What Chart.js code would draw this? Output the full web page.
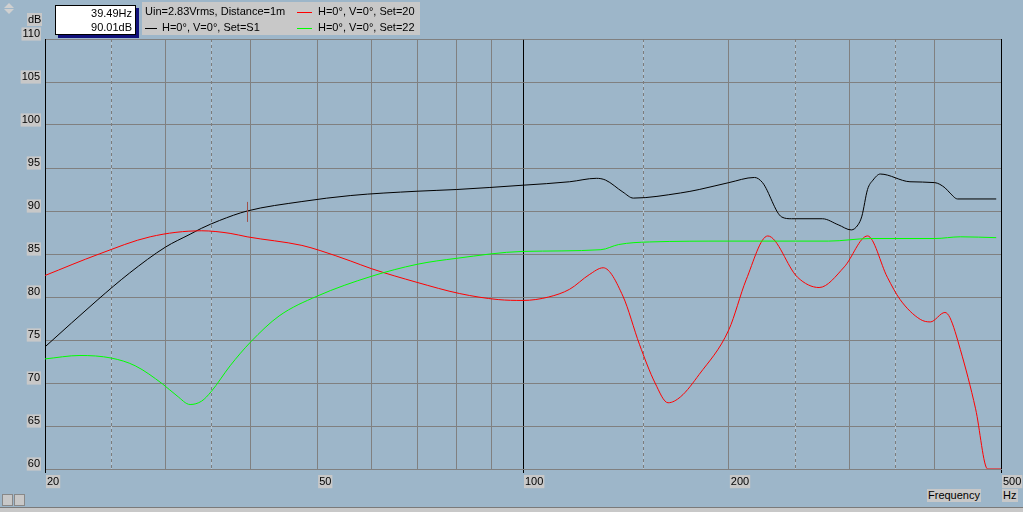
<!DOCTYPE html>
<html>
<head>
<meta charset="utf-8">
<script src="https://cdn.jsdelivr.net/npm/chart.js@4"></script>
<style>
  html, body { margin:0; padding:0; background:#9db6c9; }
  #wrap { position:relative; width:1023px; height:512px; overflow:hidden; background:#9db6c9; font:11px "Liberation Sans", Arial, sans-serif; color:#000; }
  #chart { position:absolute; left:0; top:0; }
  .abs { position:absolute; white-space:nowrap; line-height:13px; }
  .gray { background:#c8c8c8; }
  #valbox { left:55px; top:5px; width:79px; height:28px; background:#fff; border:1px solid #000; box-shadow:3px 3px 0 #10107a; text-align:right; }
  #valbox div { padding-right:3px; line-height:14px; }
  #legend { left:142px; top:2px; width:278px; height:33px; background:#c8c8c8; }
  .sw { position:absolute; height:1px; width:15px; }
  #bottomline { left:0; top:507px; width:1023px; height:1px; background:#7a7a7a; }
  #bottomlight { left:0; top:508px; width:1023px; height:4px; background:#c8c8c8; }
</style>
</head>
<body>
<div id="wrap">
  <canvas id="chart" width="1023" height="512"></canvas>
  <div class="abs" style="left:4px;top:3px;width:0;height:0;border-left:5px solid transparent;border-right:5px solid transparent;border-bottom:5px solid #d0d0d0;"></div>
  <div class="abs" style="left:4px;top:9px;width:0;height:0;border-left:5px solid transparent;border-right:5px solid transparent;border-top:5px solid #d0d0d0;"></div>
  <div class="abs gray" style="left:27px;top:13px;padding:0 1px;">dB</div>
  <div class="abs" id="valbox"><div>39.49Hz</div><div>90.01dB</div></div>
  <div class="abs" id="legend">
    <div class="abs" style="left:3px;top:3px;">Uin=2.83Vrms, Distance=1m</div>
    <div class="sw" style="left:3px;top:26px;width:12px;background:#000;"></div>
    <div class="abs" style="left:20px;top:19px;">H=0°, V=0°, Set=S1</div>
    <div class="sw" style="left:155px;top:10px;background:#ff0000;"></div>
    <div class="abs" style="left:176px;top:3px;">H=0°, V=0°, Set=20</div>
    <div class="sw" style="left:155px;top:26px;background:#00ff00;"></div>
    <div class="abs" style="left:176px;top:19px;">H=0°, V=0°, Set=22</div>
  </div>
  <div class="abs gray" style="left:927px;top:489px;padding:0 1px;">Frequency</div>
  <div class="abs gray" style="left:1002px;top:489px;padding:0 2px 0 1px;">Hz</div>
  <div class="abs" style="left:2px;top:494px;width:9px;height:10px;background:#c8c8c8;border:1px solid #888;"></div>
  <div class="abs" style="left:14px;top:494px;width:9px;height:10px;background:#c8c8c8;border:1px solid #888;"></div>
  <div class="abs" id="bottomline"></div>
  <div class="abs" id="bottomlight"></div>
</div>
<script>
// axis
const xTicks = [20, 30, 40, 50, 60, 70, 80, 90, 100, 200, 300, 400, 500];
const xLabels = [20, 50, 100, 200, 500];
const xDashed = [25, 35, 150, 250, 350];
const blackTicks = [20, 100, 500];

// Set=S1 (black)
const s1Freq = [20, 23.9, 26.6, 30, 32.6, 33.9, 36, 39.5, 47.5, 56, 70, 80, 100, 117, 128, 132, 140, 145, 170, 181, 200, 218, 224, 239, 247, 274, 289, 302, 309, 313, 319, 325, 333, 368, 400, 414, 421, 432, 492];
const s1Db   = [74.2, 79.7, 82.8, 85.8, 87.3, 88.0, 88.9, 90.0, 91.1, 91.8, 92.3, 92.5, 93.0, 93.4, 93.8, 93.6, 92.2, 91.5, 92.1, 92.5, 93.3, 93.9, 93.3, 89.3, 89.1, 89.1, 88.4, 87.8, 88.4, 89.4, 92.5, 93.6, 94.3, 93.4, 93.3, 92.7, 92.1, 91.4, 91.4];

// Set=20 (red)
const s20Freq = [20, 24, 28.5, 33.9, 37.3, 39.5, 47.5, 50.5, 55.9, 60, 70, 80.8, 92, 100, 109, 117, 125, 131, 140, 148, 156, 163, 170, 181, 200, 212, 228, 252, 271, 295, 319, 341, 356, 381, 394, 414, 421, 436, 459, 478, 500];
const s20Db   = [82.5, 85.0, 87.0, 87.7, 87.4, 87.0, 86.0, 85.4, 84.2, 83.3, 81.7, 80.4, 79.7, 79.6, 80.0, 80.9, 82.6, 83.4, 80.1, 74.5, 70.0, 67.7, 68.4, 71.0, 76.2, 82.0, 87.1, 82.3, 81.1, 83.5, 87.1, 82.3, 79.7, 77.4, 77.1, 78.2, 77.6, 73.9, 67.0, 60.0, 60.0];

// Set=22 (green)
const s22Freq = [20, 22.5, 25, 27.1, 29.7, 31.2, 32.6, 33.9, 35, 37.3, 40, 44, 50, 60, 70, 80, 100, 130, 138, 153, 200, 280, 322, 400, 436, 492];
const s22Db   = [72.8, 73.2, 72.9, 72.0, 69.9, 68.5, 67.5, 67.9, 69.0, 72.0, 74.8, 77.8, 80.1, 82.4, 83.8, 84.5, 85.3, 85.5, 86.1, 86.4, 86.5, 86.5, 86.8, 86.8, 87.0, 86.9];

const cursorHz = 39.49, cursorDb = 90.01;

const pts = (fs, ds) => fs.map((f, i) => ({ x: f, y: ds[i] }));
const line = (label, color, data) => ({ label, data, borderColor: color, borderWidth: 1, pointRadius: 0, fill: false, cubicInterpolationMode: 'monotone' });

const extras = {
  id: 'extras',
  beforeDatasetsDraw(chart) {
    const { ctx, chartArea: a, scales: { x } } = chart;
    ctx.save();
    xDashed.forEach(v => {
      const px = Math.round(x.getPixelForValue(v)) + 0.5;
      ctx.strokeStyle = '#b4c6d4'; ctx.setLineDash([]);
      ctx.beginPath(); ctx.moveTo(px, a.top); ctx.lineTo(px, a.bottom); ctx.stroke();
      ctx.strokeStyle = '#7c7c7c'; ctx.setLineDash([3, 3]);
      ctx.beginPath(); ctx.moveTo(px, a.top); ctx.lineTo(px, a.bottom); ctx.stroke();
    });
    ctx.restore();
  },
  afterDatasetsDraw(chart) {
    const { ctx, scales: { x, y } } = chart;
    const px = Math.round(x.getPixelForValue(cursorHz));
    const py = y.getPixelForValue(cursorDb);
    ctx.save();
    ctx.strokeStyle = '#a0504a'; ctx.lineWidth = 1;
    ctx.beginPath(); ctx.moveTo(px + 0.5, py - 9); ctx.lineTo(px + 0.5, py + 11); ctx.stroke();
    ctx.restore();
  }
};

new Chart(document.getElementById('chart'), {
  type: 'line',
  data: {
    datasets: [
      line('H=0°, V=0°, Set=22', '#00ff00', pts(s22Freq, s22Db)),
      line('H=0°, V=0°, Set=20', '#ff0000', pts(s20Freq, s20Db)),
      line('H=0°, V=0°, Set=S1', '#000000', pts(s1Freq, s1Db))
    ]
  },
  options: {
    responsive: false,
    animation: false,
    devicePixelRatio: 1,
    layout: { padding: { left: 0, top: 39, right: 22, bottom: 0 } },
    plugins: { legend: { display: false }, tooltip: { enabled: false } },
    scales: {
      x: {
        type: 'logarithmic', min: 20, max: 500,
        afterBuildTicks: s => { s.ticks = xTicks.map(v => ({ value: v })); },
        afterFit: s => { s.height = 43; },
        grid: {
          color: c => blackTicks.includes(c.tick && c.tick.value) ? '#000000' : '#808080',
          tickColor: c => blackTicks.includes(c.tick && c.tick.value) ? '#000000' : 'rgba(0,0,0,0)',
          tickLength: 4
        },
        border: { color: '#808080' },
        ticks: {
          autoSkip: false, maxRotation: 0, align: 'start', padding: 2, labelOffset: 2,
          color: '#000',
          font: { family: '"Liberation Sans", Arial, sans-serif', size: 11 },
          showLabelBackdrop: c => xLabels.includes(c.tick && c.tick.value),
          backdropColor: '#c8c8c8',
          backdropPadding: { left: 1, right: 1, top: 0, bottom: 0 },
          callback: v => xLabels.includes(v) ? String(v) : ''
        }
      },
      y: {
        min: 60, max: 110,
        afterFit: s => { s.width = 45; },
        grid: { color: '#808080', drawTicks: false },
        border: { color: '#000000' },
        ticks: {
          stepSize: 5, padding: 5, labelOffset: -5, color: '#000',
          font: { family: '"Liberation Sans", Arial, sans-serif', size: 11 },
          showLabelBackdrop: true,
          backdropColor: '#c8c8c8',
          backdropPadding: { left: 1, right: 1, top: 0, bottom: 0 }
        }
      }
    }
  },
  plugins: [extras]
});
</script>
</body>
</html>
